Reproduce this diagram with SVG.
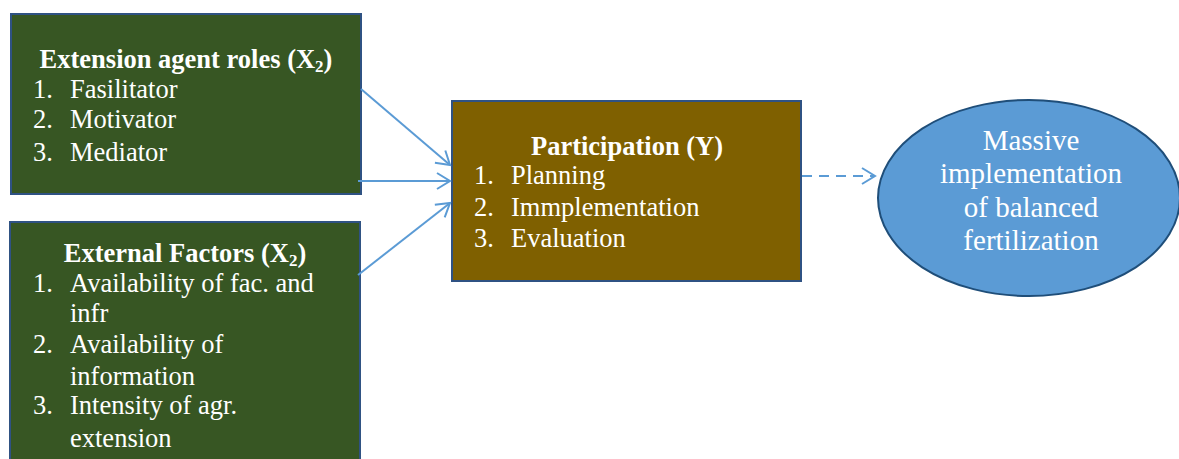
<svg xmlns="http://www.w3.org/2000/svg" width="1179" height="459" viewBox="0 0 1179 459">
<style>
.box{stroke:#2F5283;stroke-width:2}
.con{stroke:#5B9BD5;stroke-width:2;fill:none}
</style>
<defs>
<marker id="ah" markerUnits="userSpaceOnUse" markerWidth="18" markerHeight="20" refX="14" refY="10" orient="auto" viewBox="0 0 18 20">
<path d="M1,2 L14,10 L1,18" fill="none" stroke="#5B9BD5" stroke-width="2"/>
</marker>
</defs>
<rect width="1179" height="459" fill="#ffffff"/>
<g id="node-x2-agent" font-family="'Liberation Serif', 'Times New Roman', serif" font-size="26.5" fill="#ffffff">
<rect class="box" x="11" y="14" width="350" height="180" fill="#375623"/>
<text x="186" y="68" font-weight="bold" text-anchor="middle">Extension agent roles (X<tspan font-size="17" dy="4">2</tspan><tspan dy="-4">)</tspan></text>
<text x="33" y="98">1.</text><text x="70" y="98">Fasilitator</text>
<text x="33" y="128">2.</text><text x="70" y="128">Motivator</text>
<text x="33" y="161">3.</text><text x="70" y="161">Mediator</text>
</g>
<g id="node-x2-external" font-family="'Liberation Serif', 'Times New Roman', serif" font-size="26.5" fill="#ffffff">
<rect class="box" x="10" y="222" width="350" height="250" fill="#375623"/>
<text x="185" y="262" font-weight="bold" text-anchor="middle">External Factors (X<tspan font-size="17" dy="4">2</tspan><tspan dy="-4">)</tspan></text>
<text x="33" y="292">1.</text><text x="70" y="292">Availability of fac. and</text>
<text x="70" y="322">infr</text>
<text x="33" y="353">2.</text><text x="70" y="353">Availability of</text>
<text x="70" y="385">information</text>
<text x="33" y="414">3.</text><text x="70" y="414">Intensity of agr.</text>
<text x="70" y="447">extension</text>
</g>
<g id="node-y" font-family="'Liberation Serif', 'Times New Roman', serif" font-size="26.5" fill="#ffffff">
<rect class="box" x="452" y="101" width="349" height="180" fill="#7F6000"/>
<text x="627" y="155" font-weight="bold" text-anchor="middle">Participation (Y)</text>
<text x="474" y="184">1.</text><text x="511" y="184">Planning</text>
<text x="474" y="216">2.</text><text x="511" y="216">Immplementation</text>
<text x="474" y="247">3.</text><text x="511" y="247">Evaluation</text>
</g>
<g id="node-outcome" font-family="'Liberation Serif', 'Times New Roman', serif" font-size="29" fill="#ffffff" text-anchor="middle">
<ellipse cx="1029" cy="198" rx="151" ry="98" fill="#5B9BD5" stroke="#1F4E79" stroke-width="2"/>
<text x="1031" y="150">Massive</text>
<text x="1031" y="183">implementation</text>
<text x="1031" y="217">of balanced</text>
<text x="1031" y="250">fertilization</text>
</g>
<g id="connectors">
<line class="con" x1="361" y1="89" x2="450" y2="165" marker-end="url(#ah)"/>
<line class="con" x1="358" y1="181" x2="450" y2="181" marker-end="url(#ah)"/>
<line class="con" x1="358" y1="275" x2="450" y2="203" marker-end="url(#ah)"/>
<line class="con" x1="802" y1="176" x2="875" y2="176" stroke-dasharray="10,7" marker-end="url(#ah)"/>
</g>
</svg>
